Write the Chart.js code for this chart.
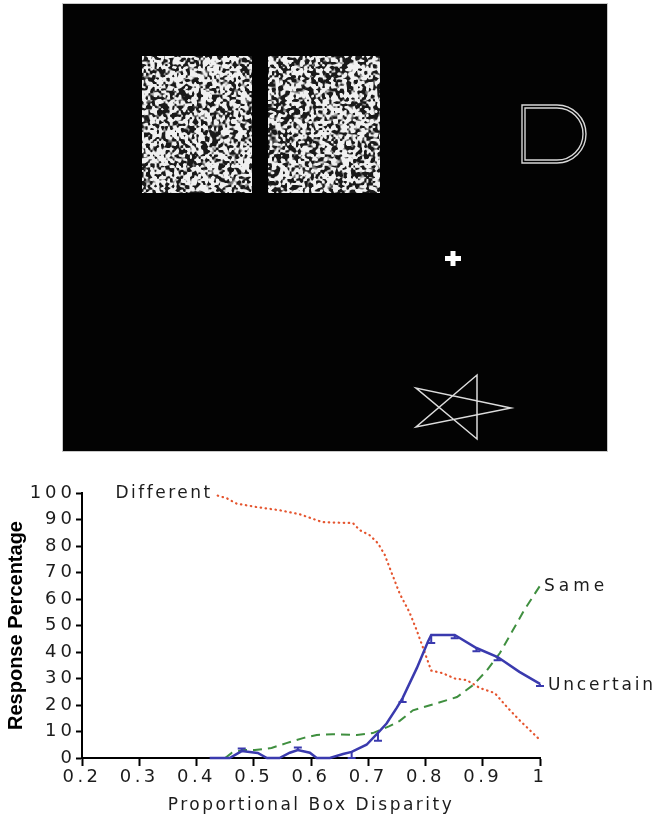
<!DOCTYPE html>
<html>
<head>
<meta charset="utf-8">
<script src="https://cdn.jsdelivr.net/npm/chart.js@4.4.1/dist/chart.umd.min.js"></script>
<style>
  html, body { margin: 0; padding: 0; background: #ffffff; }
  #wrap { width: 656px; height: 819px; }
</style>
</head>
<body>
<div id="wrap"><canvas id="c" width="656" height="819"></canvas></div>
<script>
// ---- data ----
const xTickLabels = ['0.2', '0.3', '0.4', '0.5', '0.6', '0.7', '0.8', '0.9', '1'];
const yTickLabels = ['0', '10', '20', '30', '40', '50', '60', '70', '80', '90', '100'];

const seriesNames = ['Uncertain', 'Same', 'Different'];

const differentX = [0.437, 0.453, 0.47, 0.505, 0.545, 0.58, 0.62, 0.66, 0.673, 0.685, 0.703, 0.717, 0.729, 0.737, 0.755, 0.772, 0.785, 0.795, 0.81, 0.83, 0.851, 0.872, 0.895, 0.921, 0.942, 0.964, 1.0];
const differentY = [99, 98, 96, 94.7, 93.5, 92, 89, 88.7, 88.7, 86, 84, 81, 76.6, 72, 62, 55, 48, 42, 33, 32, 30, 29.4, 26.4, 24.5, 19.3, 14.3, 6.8];

const sameX = [0.45, 0.462, 0.481, 0.502, 0.531, 0.557, 0.586, 0.61, 0.638, 0.68, 0.708, 0.737, 0.755, 0.778, 0.82, 0.855, 0.883, 0.907, 0.93, 0.952, 0.973, 1.0];
const sameY = [0, 2, 3, 3, 3.8, 5.6, 7.5, 8.7, 9, 8.7, 9.4, 12, 14, 18, 20.7, 23, 27.5, 33, 39.6, 48, 56, 65];

const uncertainX = [0.423, 0.458, 0.479, 0.507, 0.523, 0.545, 0.563, 0.577, 0.598, 0.61, 0.633, 0.656, 0.671, 0.697, 0.717, 0.732, 0.75, 0.76, 0.785, 0.804, 0.81, 0.851, 0.889, 0.926, 0.964, 1.0];
const uncertainY = [0, 0, 2.6, 1.9, 0, 0, 2, 3, 2, 0, 0, 1.5, 2.3, 5, 9.5, 13, 19, 22.6, 34, 43.8, 46.4, 46.4, 41.5, 38.1, 32.5, 28];

// error bars on the Uncertain series (x positions, lower / upper extents)
const errX  = [0.479, 0.577, 0.671, 0.717, 0.76, 0.81, 0.851, 0.889, 0.926, 1.0];
const errLo = [0, 0, 2.3, 3, 1.5, 3, 1.2, 1.2, 1.2, 0.8];
const errHi = [1, 1, 0, 0, 0, 0, 0, 0, 0, 0];

// ---- styles ----
const COL_UNC = '#3a3aae';
const COL_SAME = '#3f8f3f';
const COL_DIFF = '#e5552f';
const TEXT = '#1c1c1c';
const FONT = "'DejaVu Sans', Verdana, sans-serif";

const toPts = (xs, ys) => xs.map((x, i) => ({ x: x, y: ys[i] }));

// letter spacing per scale part (applied while the library draws them)
const LS = { x: { labels: '3.5px', title: '2.5px' }, y: { labels: '4px', title: '0px' } };
const SP = Chart.Scale.prototype;
const origLabels = SP.drawLabels, origTitle = SP.drawTitle;
SP.drawLabels = function (a) {
  const c = this.ctx; c.save();
  c.letterSpacing = (LS[this.id] || {}).labels || '0px';
  origLabels.call(this, a); c.restore();
};
SP.drawTitle = function () {
  const c = this.ctx; c.save();
  c.letterSpacing = (LS[this.id] || {}).title || '0px';
  origTitle.call(this); c.restore();
};

function mulberry32(a) {
  return function () {
    a |= 0; a = a + 0x6D2B79F5 | 0;
    let t = Math.imul(a ^ a >>> 15, 1 | a);
    t = t + Math.imul(t ^ t >>> 7, 61 | t) ^ t;
    return ((t ^ t >>> 14) >>> 0) / 4294967296;
  };
}
// decorative texture for the stimulus boxes (seeded, not chart data)
function drawNoise(ctx, x, y, w, h, seed) {
  const rnd = mulberry32(seed);
  const cs = 2.2;
  const gw = Math.ceil(w / cs) + 2, gh = Math.ceil(h / cs) + 2;
  const g = new Float32Array(gw * gh);
  for (let i = 0; i < g.length; i++) g[i] = rnd();
  const img = ctx.createImageData(w, h);
  for (let py = 0; py < h; py++) {
    for (let px = 0; px < w; px++) {
      const gx = px / cs, gy = py / cs;
      const ix = Math.floor(gx), iy = Math.floor(gy);
      const fx = gx - ix, fy = gy - iy;
      const a = g[iy * gw + ix], b = g[iy * gw + ix + 1];
      const c = g[(iy + 1) * gw + ix], d = g[(iy + 1) * gw + ix + 1];
      const v = (a * (1 - fx) + b * fx) * (1 - fy) + (c * (1 - fx) + d * fx) * fy;
      const t = Math.max(0, Math.min(1, (v - 0.34) / 0.24));
      const val = Math.round(25 + t * 215);
      const k = (py * w + px) * 4;
      img.data[k] = val; img.data[k + 1] = val; img.data[k + 2] = val; img.data[k + 3] = 255;
    }
  }
  ctx.putImageData(img, x, y);
}

// stimulus panel above the chart
const stimulusPanel = {
  id: 'stimulusPanel',
  beforeDraw(chart) {
    const ctx = chart.ctx;
    ctx.save();
    ctx.fillStyle = '#ffffff';
    ctx.fillRect(0, 0, chart.width, chart.height);
    ctx.fillStyle = '#030303';
    ctx.fillRect(63, 4, 544, 447);
    ctx.strokeStyle = '#c8c8c8';
    ctx.lineWidth = 1;
    ctx.strokeRect(62.5, 3.5, 545, 448);
    drawNoise(ctx, 142, 56, 110, 137, 12345);
    drawNoise(ctx, 268, 56, 112, 137, 67890);
    // D shape (double outline)
    ctx.strokeStyle = '#d8d8d8';
    ctx.lineWidth = 1.4;
    [[0, 29], [3, 26]].forEach(([o, r]) => {
      ctx.beginPath();
      ctx.moveTo(522 + o, 105 + o);
      ctx.lineTo(557, 105 + o);
      ctx.arc(557, 134, r, -Math.PI / 2, Math.PI / 2);
      ctx.lineTo(522 + o, 163 - o);
      ctx.closePath();
      ctx.stroke();
    });
    // fixation cross
    ctx.fillStyle = '#ffffff';
    ctx.fillRect(445, 256, 16, 5);
    ctx.fillRect(450.5, 251, 5, 15);
    // star outline
    ctx.strokeStyle = '#dcdcdc';
    ctx.lineWidth = 1.5;
    ctx.beginPath();
    ctx.moveTo(477, 375); ctx.lineTo(477, 439);
    ctx.lineTo(416, 388); ctx.lineTo(511, 408);
    ctx.lineTo(416, 427); ctx.closePath();
    ctx.stroke();
    ctx.restore();
  }
};

// error bars and series labels, placed through the chart scales
const annotations = {
  id: 'annotations',
  afterDatasetsDraw(chart) {
    const ctx = chart.ctx, xs = chart.scales.x, ys = chart.scales.y;
    ctx.save();
    ctx.strokeStyle = COL_UNC;
    ctx.lineWidth = 2;
    errX.forEach((ex, i) => {
      const idx = uncertainX.indexOf(ex);
      const v = uncertainY[idx];
      const px = xs.getPixelForValue(ex);
      const y1 = ys.getPixelForValue(v - errLo[i]);
      const y2 = ys.getPixelForValue(v + errHi[i]);
      ctx.beginPath();
      ctx.moveTo(px, y1); ctx.lineTo(px, y2);
      if (errLo[i] > 0) { ctx.moveTo(px - 4, y1); ctx.lineTo(px + 4, y1); }
      if (errHi[i] > 0) { ctx.moveTo(px - 4, y2); ctx.lineTo(px + 4, y2); }
      ctx.stroke();
    });
    ctx.fillStyle = TEXT;
    ctx.font = '17px ' + FONT;
    ctx.letterSpacing = '2.5px';
    ctx.textBaseline = 'middle';
    // Different: left of its first point
    ctx.textAlign = 'right';
    ctx.fillText(seriesNames[2], xs.getPixelForValue(differentX[0]) - 5, ys.getPixelForValue(differentY[0]) - 2);
    ctx.textAlign = 'left';
    ctx.letterSpacing = '4px';
    ctx.fillText(seriesNames[1], xs.getPixelForValue(sameX[sameX.length - 1]) + 4, ys.getPixelForValue(sameY[sameY.length - 1]) + 1);
    ctx.letterSpacing = '2.8px';
    ctx.fillText(seriesNames[0], xs.getPixelForValue(uncertainX[uncertainX.length - 1]) + 8, ys.getPixelForValue(uncertainY[uncertainY.length - 1]) + 2);
    ctx.restore();
  }
};

const ctx = document.getElementById('c').getContext('2d');
new Chart(ctx, {
  type: 'line',
  data: {
    datasets: [
      { label: seriesNames[0], data: toPts(uncertainX, uncertainY), borderColor: COL_UNC, borderWidth: 2.5, pointRadius: 0, tension: 0, clip: false },
      { label: seriesNames[1], data: toPts(sameX, sameY), borderColor: COL_SAME, borderWidth: 2, borderDash: [9, 6], pointRadius: 0, tension: 0, clip: false },
      { label: seriesNames[2], data: toPts(differentX, differentY), borderColor: COL_DIFF, borderWidth: 2.2, borderDash: [0.5, 4.5], borderCapStyle: 'round', pointRadius: 0, tension: 0, clip: false }
    ]
  },
  options: {
    responsive: false,
    devicePixelRatio: 1,
    animation: false,
    events: [],
    layout: { padding: { top: 493, right: 116, bottom: 0, left: 0 } },
    plugins: { legend: { display: false }, tooltip: { enabled: false } },
    scales: {
      x: {
        type: 'linear', min: 0.2, max: 1.0,
        afterFit: s => { s.height = 61; },
        ticks: {
          stepSize: 0.1, autoSkip: false, maxRotation: 0, padding: 1,
          color: TEXT, font: { family: FONT, size: 18 },
          callback: (v, i) => xTickLabels[i]
        },
        grid: { drawOnChartArea: false, drawTicks: true, tickLength: 8, tickWidth: 2, tickColor: '#000' },
        border: { display: true, color: '#000', width: 2 },
        title: { display: true, text: 'Proportional Box Disparity', color: TEXT, font: { family: FONT, size: 17 }, padding: { top: 0, bottom: 3 } }
      },
      y: {
        type: 'linear', min: 0, max: 100,
        afterFit: s => { s.width = 82; },
        ticks: {
          stepSize: 10, autoSkip: false, padding: 0,
          color: TEXT, font: { family: FONT, size: 18 },
          callback: (v, i) => yTickLabels[i]
        },
        grid: { drawOnChartArea: false, drawTicks: true, tickLength: 6, tickWidth: 2, tickColor: '#000' },
        border: { display: true, color: '#000', width: 2 },
        title: { display: true, text: 'Response Percentage', color: '#000', font: { family: "'Liberation Sans', Arial, sans-serif", size: 20, weight: 'bold' }, padding: { top: 4, bottom: 0 } }
      }
    }
  },
  plugins: [stimulusPanel, annotations]
});
</script>
</body>
</html>
